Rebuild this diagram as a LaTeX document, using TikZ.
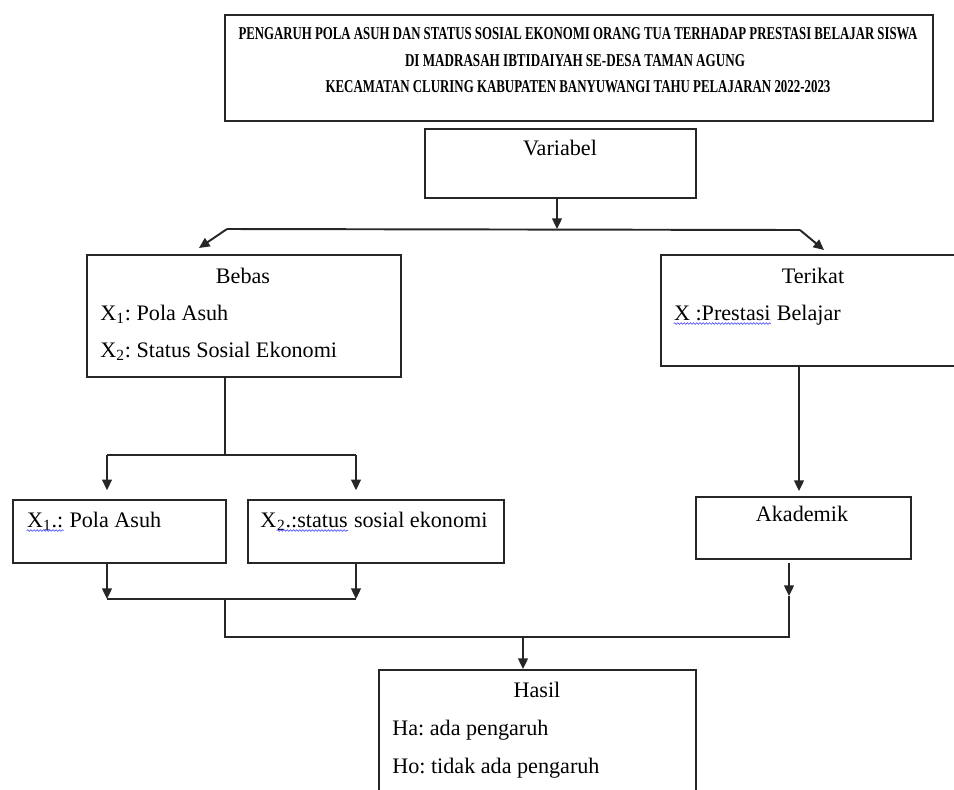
\documentclass[tikz,border=0pt]{standalone}
\usepackage{fontspec}
\setmainfont{Liberation Serif}
\usepackage{graphicx}
\usetikzlibrary{arrows.meta, positioning, decorations.pathmorphing}
\frenchspacing

\tikzset{
  box/.style={draw=black!85, line width=1.1pt, rectangle, inner sep=0pt, anchor=north west},
  txt/.style={inner sep=0pt, anchor=base west, font=\fontsize{12.6}{15}\selectfont},
  head/.style={txt, anchor=base},
  titletxt/.style={inner sep=0pt, anchor=base, font=\fontsize{10.3}{12}\selectfont\bfseries},
  link/.style={draw=black!85, line width=1.1pt},
  arr/.style={link, -{Triangle[length=6pt, width=5.5pt]}},
  typo/.style={draw=blue!65, line width=0.4pt, decorate,
    decoration={snake, amplitude=0.45pt, segment length=1.8pt}}
}

% wavy spell-check line under a word
\newcommand{\spellmark}[1]{\tikz[baseline=(w.base)]{\node[inner sep=0pt] (w) {#1};
  \draw[typo] ([yshift=-2pt]w.base west) -- ([yshift=-2pt]w.base east);}}

\begin{document}
\begin{tikzpicture}[x=0.02cm, y=-0.02cm]
  \useasboundingbox (0,0) rectangle (954,789);
  \clip (0,0) rectangle (954,789);

  % boxes
  \node[box, minimum width=14.16cm, minimum height=2.12cm] (title) at (224,14) {};
  \node[box, minimum width=5.42cm, minimum height=1.38cm] (variabel) at (424,128) {};
  \node[box, minimum width=6.28cm, minimum height=2.44cm] (bebas) at (86,254) {};
  \node[box, minimum width=6.4cm, minimum height=2.22cm] (terikat) at (660,254) {};
  \node[box, minimum width=4.26cm, minimum height=1.26cm] (x1) at (12,499) {};
  \node[box, minimum width=5.12cm, minimum height=1.26cm] (x2) at (247,499) {};
  \node[box, minimum width=4.3cm, minimum height=1.24cm] (akademik) at (695,496) {};
  \node[box, minimum width=6.34cm, minimum height=3cm] (hasil) at (378,669) {};

  % texts
  \node[titletxt] (title-1) at (578,39) {\resizebox{13.58cm}{\height}{PENGARUH POLA ASUH DAN STATUS SOSIAL EKONOMI ORANG TUA TERHADAP PRESTASI BELAJAR SISWA}};
  \node[titletxt] (title-2) at (575,66) {\resizebox{6.8cm}{\height}{DI MADRASAH IBTIDAIYAH SE-DESA TAMAN AGUNG}};
  \node[titletxt] (title-3) at (578,92) {\resizebox{10.1cm}{\height}{KECAMATAN CLURING KABUPATEN BANYUWANGI TAHU PELAJARAN 2022-2023}};
  \node[head] (variabel-txt) at (560,155) {Variabel};
  \node[head] (bebas-txt) at (243,283) {Bebas};
  \node[txt] (bebas-x1) at (100,320) {X\textsubscript{1}: Pola Asuh};
  \node[txt] (bebas-x2) at (100,357) {X\textsubscript{2}: Status Sosial Ekonomi};
  \node[head] (terikat-txt) at (813,283) {Terikat};
  \node[txt] (terikat-y) at (673,320) {\spellmark{X :Prestasi} Belajar};
  \node[txt] (x1-txt) at (26,527) {\spellmark{X\textsubscript{1}.:} Pola Asuh};
  \node[txt] (x2-txt) at (260,527) {X\spellmark{\textsubscript{2}.:status} sosial ekonomi};
  \node[head] (akademik-txt) at (802,521) {Akademik};
  \node[head] (hasil-txt) at (537,697) {Hasil};
  \node[txt] (hasil-ha) at (392,735) {Ha: ada pengaruh};
  \node[txt] (hasil-ho) at (392,773) {Ho: tidak ada pengaruh};

  % junction points
  \coordinate (fork) at (557,229);
  \coordinate (fork-l) at (227,229);
  \coordinate (fork-r) at (800,230);
  \coordinate (bebas-in) at (199,248);
  \coordinate (terikat-in) at (824,250);
  \coordinate (split-m) at (225,455);
  \coordinate (split-l) at (107,455);
  \coordinate (split-r) at (356,455);
  \coordinate (akad-in) at (799,491);
  \coordinate (join-l) at (107,599);
  \coordinate (join-m) at (225,599);
  \coordinate (join-r) at (356,599);
  \coordinate (akad-out) at (789,563);
  \coordinate (akad-tip) at (789,596);
  \coordinate (merge-l) at (225,637);
  \coordinate (merge-m) at (523,637);
  \coordinate (merge-r) at (789,637);

  % connectors
  \draw[arr] (variabel.south -| fork) -- (fork);
  \draw[link] (fork-l) -- (fork-r);
  \draw[arr] (fork-l) -- (bebas-in);
  \draw[arr] (fork-r) -- (terikat-in);
  \draw[link] (bebas.south -| split-m) -- (split-m);
  \draw[link] (split-l) -- (split-r);
  \draw[arr, shorten >=5pt] (split-l) -- (split-l |- x1.north);
  \draw[arr, shorten >=5pt] (split-r) -- (split-r |- x2.north);
  \draw[arr] (terikat.south -| akad-in) -- (akad-in);
  \draw[arr] (x1.south -| join-l) -- (join-l);
  \draw[arr] (x2.south -| join-r) -- (join-r);
  \draw[link] (join-l) -- (join-r);
  \draw[link] (join-m) -- (merge-l) -- (merge-r) -- (akad-tip);
  \draw[arr] (akad-out) -- (akad-tip);
  \draw[arr] (merge-m) -- (hasil.north -| merge-m);
\end{tikzpicture}
\end{document}
